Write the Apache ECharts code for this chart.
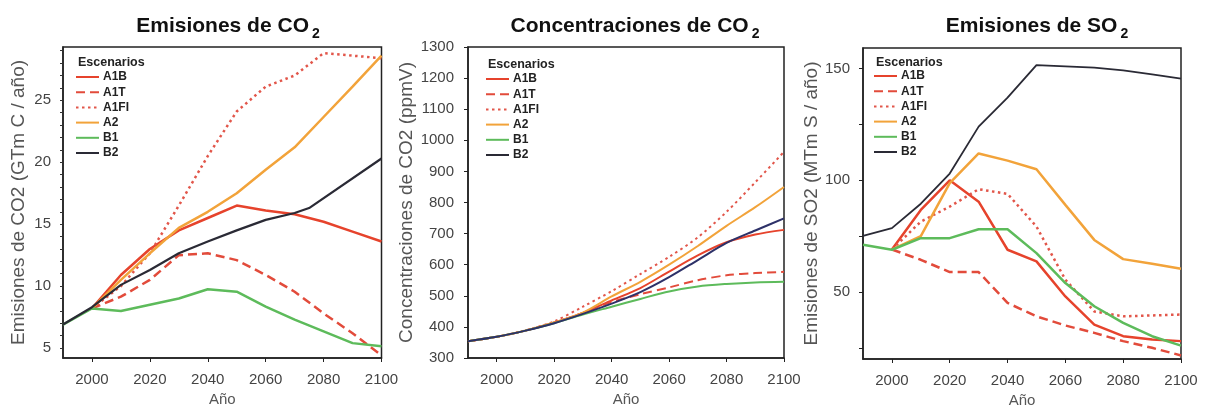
<!DOCTYPE html>
<html>
<head>
<meta charset="utf-8">
<script src="https://cdn.jsdelivr.net/npm/echarts@6/dist/echarts.min.js"></script>
<style>
html,body{margin:0;padding:0;background:#fff;}
#c{width:1205px;height:408px;}
</style>
</head>
<body>
<div id="c"></div>
<script>
// ---- data ----
const years = [1990, 2000, 2010, 2020, 2030, 2040, 2050, 2060, 2070, 2080, 2090, 2100];
const scenarios = ['A1B', 'A1T', 'A1FI', 'A2', 'B1', 'B2'];
const xTickLabels = [2000, 2020, 2040, 2060, 2080, 2100];

// Emisiones de CO2 (GTm C / año)
const emiA1B  = [null, 8.2, 10.9, 13.0, 14.5, 15.5, 16.5, 16.1, 15.8, 15.2, 14.4, 13.6];
const emiA1T  = [null, 8.2, 9.15, 10.5, 12.5, 12.65, 12.1, 10.9, 9.55, 7.8, 6.2, 4.4];
const emiA1FI = [null, 8.2, 10.0, 12.65, 16.5, 20.5, 24.1, 26.1, 27.0, 28.8, 28.6, 28.4];
const emiA2   = [null, 8.2, 10.5, 12.65, 14.7, 16.0, 17.5, 19.4, 21.2, 23.65, 26.1, 28.6];
const emiB1   = [6.9, 8.2, 8.0, 8.5, 9.0, 9.75, 9.55, 8.35, 7.3, 6.35, 5.4, 5.15];
const emiB2Years = [1990, 2000, 2010, 2020, 2030, 2040, 2050, 2060, 2070, 2075, 2100];
const emiB2   = [6.9, 8.3, 10.1, 11.3, 12.65, 13.6, 14.5, 15.35, 15.9, 16.3, 20.3];
const emiYLabels = [5, 10, 15, 20, 25];
const emiYTicks = [5, 6, 7, 8, 9, 10, 11, 12, 13, 14, 15, 16, 17, 18, 19, 20, 21, 22, 23, 24, 25, 26, 27, 28, 29];

// Concentraciones de CO2 (ppmV)
const concA1B  = [354, 368, 388, 414, 445, 485, 525, 578, 630, 672, 697, 712];
const concA1T  = [354, 368, 388, 414, 445, 480, 505, 527, 550, 566, 573, 577];
const concA1FI = [354, 368, 389, 418, 465, 515, 570, 625, 688, 770, 865, 963];
const concA2   = [354, 368, 388, 414, 446, 498, 545, 600, 660, 725, 785, 850];
const concB1   = [354, 368, 388, 412, 440, 465, 490, 514, 530, 538, 543, 545];
const concB2   = [354, 368, 388, 412, 442, 475, 512, 560, 615, 670, 710, 749];

// Emisiones de SO2 (MTm S / año)
const so2A1B  = [null, 69, 86.7, 100, 90.4, 68.9, 63.7, 48, 35.4, 30.2, 28.7, 28];
const so2A1T  = [null, 69, 64.4, 58.9, 58.9, 45.1, 39.1, 35, 31.7, 28, 25, 21.6];
const so2A1FI = [null, 69, 81.5, 88.2, 96, 93.9, 79.3, 55.5, 41.3, 39.1, 39.5, 39.9];
const so2A2   = [null, 69, 75, 98.7, 112, 108.8, 104.9, 89, 73.3, 64.7, 62.6, 60.4];
const so2B1   = [71.1, 68.9, 74.1, 74.1, 78.1, 78.1, 67.4, 54, 43.6, 36.2, 30.2, 26];
const so2B2   = [75.1, 78.6, 89.5, 103, 124, 137, 151.5, 151, 150.4, 149.2, 147.4, 145.5];
const so2YLabels = [50, 100, 150];
const so2YTicks = [25, 50, 75, 100, 125, 150];

// ---- helpers ----
function pairs(xs, vs) {
  const out = [];
  for (let i = 0; i < xs.length; i++) if (vs[i] !== null) out.push([xs[i], vs[i]]);
  return out;
}
const plain = v => String(v);
const FONT = '"Liberation Sans", Arial, sans-serif';
const colors = {A1B:'#e6432c', A1T:'#e24b3b', A1FI:'#e2564a', A2:'#f2a33a', B1:'#5dbb5b', B2:'#2a2a35'};
const dash = {A1B:'solid', A1T:[9,5], A1FI:[2.5,3.5], A2:'solid', B1:'solid', B2:'solid'};

function mk(name, idx, data, width, color, smooth) {
  return {
    type:'line', name:name, xAxisIndex:idx, yAxisIndex:idx, data:data,
    symbol:'none', smooth: smooth || false, clip:true, animation:false,
    lineStyle:{color: color || colors[name], width: width, type: dash[name], cap:'butt'},
    itemStyle:{color: color || colors[name]},
    z: name === 'B2' ? 3 : 2
  };
}

const panels = [
  {left:63, top:47, width:318.5, height:311, title:'Emisiones de CO', titleX:223,
   yName:'Emisiones de CO2 (GTm C / año)', nameGap:35, legendLeft:75, legendTop:71, escLeft:73, escTop:51},
  {left:468, top:47, width:316, height:311, title:'Concentraciones de CO', titleX:630,
   yName:'Concentraciones de CO2 (ppmV)', nameGap:50, legendLeft:485, legendTop:73, escLeft:483, escTop:53},
  {left:863, top:48, width:318, height:311, title:'Emisiones de SO', titleX:1032,
   yName:'Emisiones de SO2 (MTm S / año)', nameGap:42, legendLeft:873, legendTop:70, escLeft:871, escTop:51}
];

const grids = [], xAxes = [], yAxes = [], titles = [], legends = [];
panels.forEach((p, i) => {
  grids.push({left:p.left, top:p.top, width:p.width, height:p.height, show:true,
              containLabel:false, outerBoundsMode:'none',
              borderColor:'#222', borderWidth:1.5, backgroundColor:'#fff'});
  xAxes.push({
    type:'value', gridIndex:i, min:1990, max:2100,
    name:'Año', nameLocation:'middle', nameGap:33,
    nameTextStyle:{fontFamily:FONT, fontSize:15, color:'#555'},
    axisLine:{show:true, lineStyle:{color:'#222', width:1.5}},
    axisTick:{show:true, length:4, customValues:xTickLabels, lineStyle:{color:'#222'}},
    axisLabel:{customValues:xTickLabels, formatter:plain, margin:14, fontFamily:FONT, fontSize:15, color:'#444'},
    splitLine:{show:false}
  });
  titles.push({
    text:'{a|' + p.title + '}{s|2}', left:p.titleX, top:11, textAlign:'center',
    textStyle:{rich:{
      a:{fontFamily:FONT, fontSize:21, fontWeight:'bold', color:'#111', lineHeight:22, verticalAlign:'top'},
      s:{fontFamily:FONT, fontSize:14, fontWeight:'bold', color:'#111', lineHeight:14, padding:[11,0,0,3], verticalAlign:'top'}
    }}
  });
  titles.push({
    text:'Escenarios', left:p.escLeft, top:p.escTop,
    textStyle:{fontFamily:FONT, fontSize:12.5, fontWeight:'bold', color:'#222'}
  });
  legends.push({
    orient:'vertical', left:p.legendLeft, top:p.legendTop, padding:0,
    itemWidth:23, itemHeight:12, itemGap:3.2, selectedMode:false,
    itemStyle:{opacity:0, borderWidth:0},
    textStyle:{fontFamily:FONT, fontSize:12, fontWeight:'bold', color:'#222', lineHeight:12, padding:[0,0,0,-1]},
    data:scenarios
  });
});

const yNameStyle = {fontFamily:FONT, fontSize:19, color:'#555'};
yAxes.push({
  type:'value', gridIndex:0, min:4.2, max:29.3,
  name:panels[0].yName, nameLocation:'middle', nameGap:panels[0].nameGap, nameTextStyle:yNameStyle,
  axisLine:{show:true, lineStyle:{color:'#222', width:1.5}},
  axisTick:{show:true, length:3, customValues:emiYTicks, lineStyle:{color:'#333'}},
  axisLabel:{customValues:emiYLabels, formatter:plain, margin:12, fontFamily:FONT, fontSize:15, color:'#444'},
  splitLine:{show:false}
});
yAxes.push({
  type:'value', gridIndex:1, min:300, max:1300, interval:100,
  name:panels[1].yName, nameLocation:'middle', nameGap:panels[1].nameGap, nameTextStyle:yNameStyle,
  axisLine:{show:true, lineStyle:{color:'#222', width:1.5}},
  axisTick:{show:true, length:4, lineStyle:{color:'#222'}},
  axisLabel:{formatter:plain, margin:14, fontFamily:FONT, fontSize:15, color:'#444'},
  splitLine:{show:false}
});
yAxes.push({
  type:'value', gridIndex:2, min:20, max:159.2,
  name:panels[2].yName, nameLocation:'middle', nameGap:panels[2].nameGap, nameTextStyle:yNameStyle,
  axisLine:{show:true, lineStyle:{color:'#222', width:1.5}},
  axisTick:{show:true, length:4, customValues:so2YTicks, lineStyle:{color:'#222'}},
  axisLabel:{customValues:so2YLabels, formatter:plain, margin:13, fontFamily:FONT, fontSize:15, color:'#444'},
  splitLine:{show:false}
});

const series = [
  mk('A1B', 0, pairs(years, emiA1B), 2.5),
  mk('A1T', 0, pairs(years, emiA1T), 2.5),
  mk('A1FI', 0, pairs(years, emiA1FI), 2.5),
  mk('A2', 0, pairs(years, emiA2), 2.5),
  mk('B2', 0, pairs(emiB2Years, emiB2), 2.2),
  mk('B1', 0, pairs(years, emiB1), 2.5),

  mk('A1B', 1, pairs(years, concA1B), 2, null, 0.3),
  mk('A1T', 1, pairs(years, concA1T), 2, null, 0.3),
  mk('A1FI', 1, pairs(years, concA1FI), 2, null, 0.3),
  mk('A2', 1, pairs(years, concA2), 2, null, 0.3),
  mk('B2', 1, pairs(years, concB2), 2, '#2d3168', 0.3),
  mk('B1', 1, pairs(years, concB1), 2, null, 0.3),

  mk('A1B', 2, pairs(years, so2A1B), 2.5),
  mk('A1T', 2, pairs(years, so2A1T), 2.5),
  mk('A1FI', 2, pairs(years, so2A1FI), 2.5),
  mk('A2', 2, pairs(years, so2A2), 2.5),
  mk('B2', 2, pairs(years, so2B2), 1.8),
  mk('B1', 2, pairs(years, so2B1), 2.5)
];

const chart = echarts.init(document.getElementById('c'), null, {renderer:'canvas'});
chart.setOption({
  animation:false,
  backgroundColor:'#fff',
  title:titles, legend:legends, grid:grids, xAxis:xAxes, yAxis:yAxes, series:series
});
</script>
</body>
</html>
